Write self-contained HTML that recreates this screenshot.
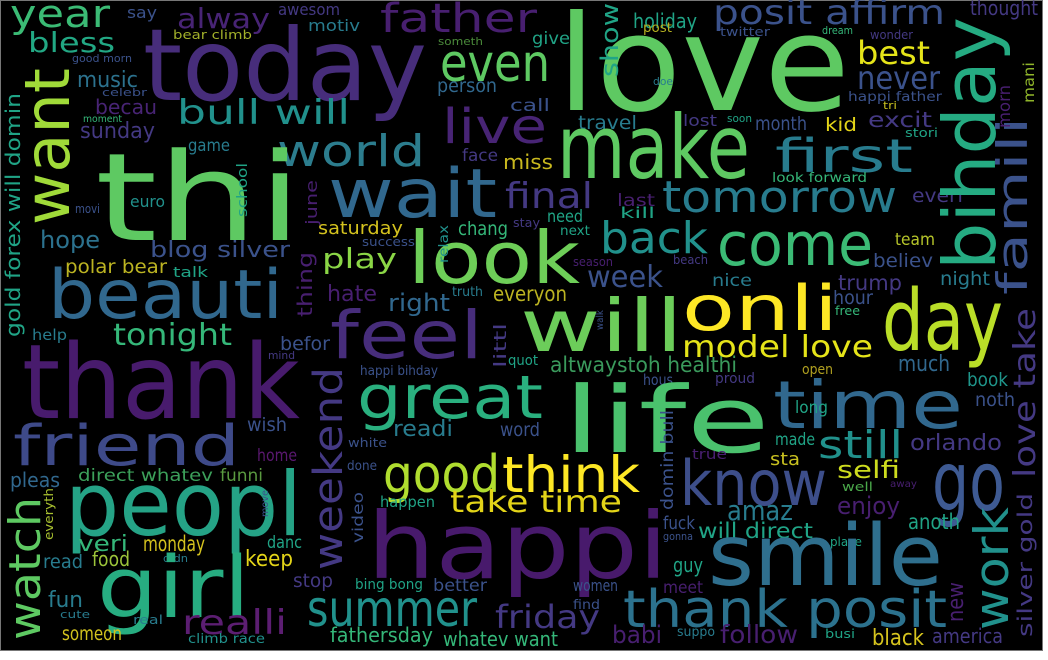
<!DOCTYPE html>
<html><head><meta charset="utf-8"><title>Word cloud</title>
<style>
html,body{margin:0;padding:0;background:#fff;}
svg{display:block;}
text{font-family:"DejaVu Sans","Liberation Sans",sans-serif;}
</style></head>
<body>
<svg id="cloud" width="1048" height="660" viewBox="0 0 1048 660" xmlns="http://www.w3.org/2000/svg">
<rect x="0.5" y="0.5" width="1042" height="650" fill="#000" stroke="#777" stroke-width="1"/>
<g id="words"></g>
</svg>
<script>
// horizontal words: [word, x, baseline, fontSize, width, color]
const horizontalWords = [
["year",10,27,38,100,"#3bbb75"],["bless",28,52,28,87,"#22a884"],["say",127,18,16,30,"#3b528b"],
["alway",177,28,28,93,"#482475"],["awesom",278,15,16,62,"#443983"],["motiv",308,31,16,52,"#287c8e"],
["bear climb",173,39,12,79,"#a2b02a"],["today",143,100,100,284,"#472d7b"],["good morn",72,62,11,60,"#3b528b"],
["music",77,87,22,61,"#2c728e"],["celebr",102,96,11,45,"#3b528b"],["becau",95,114,20,62,"#482475"],
["bull will",177,124,34,173,"#21918c"],["moment",83,122,10,39,"#35b779"],["sunday",80,138,22,75,"#443983"],
["game",188,151,17,42,"#287c8e"],["world",277,166,44,148,"#2c7d8e"],["thi",95,240,122,207,"#5ec962"],
["euro",130,207,16,35,"#21918c"],["movi",75,213,12,25,"#3b528b"],["wait",328,217,68,169,"#31688e"],
["father",380,32,40,157,"#481f70"],["even",440,81,52,110,"#5ec962"],["holiday",633,28,20,64,"#20a486"],
["post",643,32,13,29,"#b5b020"],["someth",438,45,11,45,"#4a8a3a"],["give",532,44,17,38,"#20a486"],
["love",557,110,133,293,"#5ec962"],["person",437,92,19,60,"#31688e"],["doe",653,85,11,20,"#287c8e"],
["call",510,111,17,40,"#3b528b"],["live",442,143,48,105,"#482475"],["travel",578,129,19,59,"#287c8e"],
["lost",683,126,16,34,"#443983"],["face",462,161,17,36,"#443983"],["miss",503,169,20,50,"#c8b81e"],
["make",557,178,88,193,"#5ec962"],["final",505,208,36,88,"#443983"],["tomorrow",662,212,44,235,"#287c8e"],
["last",617,206,17,38,"#481f70"],["need",547,222,17,36,"#20a486"],["kill",620,218,15,35,"#20a486"],
["posit affirm",713,24,34,232,"#3b528b"],["thought",970,15,20,68,"#443983"],["twitter",720,36,12,50,"#3b528b"],
["dream",822,34,11,31,"#35b779"],["wonder",870,39,12,43,"#443983"],["best",857,64,32,73,"#e5e419"],
["never",857,89,32,83,"#3b528b"],["happi father",848,101,13,94,"#3b528b"],["tri",883,109,11,14,"#c8c020"],
["soon",727,122,11,25,"#20a486"],["month",755,130,19,52,"#3b528b"],["kid",825,131,19,32,"#e3d418"],
["excit",868,127,21,64,"#443983"],["stori",905,137,12,33,"#20a486"],["first",775,172,46,138,"#287c8e"],
["look forward",772,182,13,95,"#35b779"],["everi",912,202,19,51,"#443983"],["hope",40,248,24,60,"#2c728e"],
["blog silver",150,257,22,140,"#3b528b"],["saturday",318,234,18,85,"#d4c21e"],["polar bear",65,273,19,102,"#bcb422"],
["talk",173,277,14,35,"#20a486"],["play",322,268,28,75,"#8bd646"],["beauti",48,318,68,235,"#31688e"],
["hate",327,301,22,50,"#481f70"],["help",32,340,15,35,"#287c8e"],["tonight",113,345,30,119,"#35b779"],
["befor",280,350,19,50,"#3b528b"],["mind",268,359,11,27,"#443983"],["feel",330,358,66,153,"#472d7b"],
["thank",22,418,103,278,"#481b6d"],["wish",247,431,19,40,"#3b528b"],["friend",13,465,56,227,"#3e4a89"],
["success",362,246,12,53,"#3b528b"],["chang",458,235,19,50,"#35b779"],["stay",513,227,12,27,"#443983"],
["next",560,235,13,30,"#20a486"],["look",408,283,72,172,"#6ece58"],["back",600,253,44,108,"#21918c"],
["season",573,266,12,40,"#481f70"],["beach",673,264,12,35,"#443983"],["week",587,287,30,76,"#3b528b"],
["truth",452,296,13,31,"#287c8e"],["everyon",493,301,21,74,"#bcb422"],["right",388,311,24,62,"#31688e"],
["will",520,351,72,163,"#6ccd5a"],["quot",508,365,14,30,"#20a486"],["happi bihday",360,375,13,78,"#3b528b"],
["altwaystoh healthi",550,372,21,187,"#3a9a5c"],["hous",643,385,15,30,"#3b528b"],["great",357,418,60,186,"#2ab07f"],
["readi",393,436,22,60,"#287c8e"],["word",500,436,19,40,"#3b528b"],["come",717,265,60,156,"#3bbb75"],
["team",895,245,17,40,"#b5c42a"],["believ",873,267,19,60,"#3b528b"],["nice",712,286,17,40,"#287c8e"],
["trump",838,290,21,64,"#443983"],["night",940,285,19,50,"#287c8e"],["hour",833,304,19,40,"#3b528b"],
["free",835,315,12,25,"#35b779"],["onli",682,330,62,156,"#fde725"],["day",882,350,85,121,"#bade28"],
["model love",682,357,30,191,"#e5e419"],["much",898,371,22,52,"#31688e"],["open",802,374,14,31,"#b0a020"],
["proud",715,383,14,40,"#443983"],["life",563,452,92,207,"#4ac16d"],["time",773,428,66,190,"#31688e"],
["book",967,386,19,41,"#1f968b"],["noth",975,406,19,40,"#3b528b"],["long",795,413,17,33,"#20a486"],
["still",818,458,38,85,"#21918c"],["made",775,445,17,40,"#20a486"],["orlando",910,450,22,92,"#443983"],
["true",692,459,14,35,"#481f70"],["sta",770,465,18,30,"#c8c020"],["know",680,505,62,147,"#3d4e8a"],
["selfi",837,478,24,63,"#cddc1e"],["go",932,510,82,73,"#3e5a93"],["well",842,491,12,31,"#4aa84a"],
["away",890,487,10,27,"#481f70"],["amaz",727,520,28,66,"#287c8e"],["enjoy",837,514,24,63,"#481f70"],
["anoth",908,529,21,52,"#20a486"],["fuck",663,529,18,32,"#3b528b"],["will direct",698,538,21,115,"#20a486"],
["gonna",663,540,11,30,"#3b528b"],["place",830,546,12,32,"#20a486"],["smile",708,585,85,235,"#2f6f8e"],
["guy",673,572,20,30,"#20a486"],["meet",663,593,17,40,"#481f70"],["thank posit",623,627,52,324,"#2c728e"],
["suppo",677,636,13,38,"#287c8e"],["busi",825,638,12,30,"#20a486"],["follow",720,643,25,78,"#481f70"],
["black",872,645,22,52,"#d6c41e"],["america",932,643,20,71,"#443983"],["good",383,492,52,117,"#b0dd2f"],
["think",502,492,50,138,"#fde725"],["take time",450,512,30,172,"#e3d418"],["white",348,447,12,39,"#3b528b"],
["done",347,470,13,30,"#3b528b"],["happen",380,507,15,55,"#20a486"],["happi",367,578,92,301,"#481a6c"],
["summer",307,626,50,170,"#21918c"],["friday",495,628,32,105,"#443983"],["babi",612,643,24,50,"#481f70"],
["fathersday",330,642,20,103,"#35b779"],["whatev want",443,646,20,115,"#35b779"],["stop",293,587,19,40,"#443983"],
["bing bong",355,589,14,68,"#20a486"],["better",433,591,17,54,"#3b528b"],["women",573,591,16,45,"#3b528b"],
["find",573,609,13,27,"#3b528b"],["danc",267,548,17,35,"#20a486"],["keep",245,566,22,48,"#e3d418"],
["pleas",10,487,20,50,"#31688e"],["direct whatev",78,481,17,135,"#3ca05a"],["funni",220,481,17,43,"#5a9a40"],
["home",257,461,17,40,"#5a1870"],["peopl",65,535,88,237,"#25a386"],["veri",78,551,22,50,"#35b779"],
["monday",143,551,21,62,"#d4c21e"],["food",92,566,20,38,"#9cc43a"],["didn",163,562,11,25,"#287c8e"],
["read",43,568,19,40,"#287c8e"],["girl",97,617,85,153,"#27ad81"],["fun",48,607,22,35,"#287c8e"],
["cute",60,618,11,30,"#287c8e"],["someon",62,640,19,60,"#d2c21e"],["real",133,624,12,30,"#287c8e"],
["realli",182,634,34,105,"#5c1e72"],["climb race",188,643,13,77,"#21918c"]
];
// vertical words (read bottom to top): [word, baselineX, bottomY, fontSize, length, color]
const verticalWords = [
["want",69,225,62,157,"#a0da39"],["gold forex will domin",20,337,20,244,"#20a486"],
["school",247,217,14,54,"#20a486"],["june",317,225,16,45,"#481f70"],["show",618,77,24,74,"#20a486"],
["bihday",995,270,72,253,"#25ab82"],["famili",1027,295,42,178,"#3b528b"],["love take",1035,478,30,170,"#443983"],
["mani",1034,103,15,41,"#8fb52a"],["morn",1010,128,17,43,"#481f70"],["weekend",342,570,40,203,"#443983"],
["thing",312,317,20,65,"#481f70"],["relax",448,263,13,38,"#21918c"],["walk",603,330,10,20,"#3b528b"],
["littl",506,368,17,45,"#443983"],["domin bull",673,510,17,100,"#3b528b"],["video",363,543,15,51,"#3b528b"],
["work",1008,630,47,123,"#21918c"],["silver gold",1032,637,20,144,"#443983"],["new",963,622,22,40,"#481f70"],
["watch",40,640,44,143,"#5ec962"],["everyth",53,540,12,52,"#a8c030"],["move",268,517,10,27,"#3b528b"]
];
const NS = "http://www.w3.org/2000/svg";
const layer = document.getElementById("words");
function slug(w){ return w.replace(/\s+/g,"-"); }
horizontalWords.forEach(function(r){
  const t = document.createElementNS(NS,"text");
  t.setAttribute("x", r[1]);
  t.setAttribute("y", r[2]);
  t.setAttribute("font-size", r[3]);
  t.setAttribute("textLength", r[4]);
  t.setAttribute("lengthAdjust", "spacingAndGlyphs");
  t.setAttribute("fill", r[5]);
  
  
  t.textContent = r[0];
  layer.appendChild(t);
});
verticalWords.forEach(function(r){
  const t = document.createElementNS(NS,"text");
  t.setAttribute("x", 0);
  t.setAttribute("y", 0);
  t.setAttribute("transform", "translate(" + r[1] + "," + r[2] + ") rotate(-90)");
  t.setAttribute("font-size", r[3]);
  t.setAttribute("textLength", r[4]);
  t.setAttribute("lengthAdjust", "spacingAndGlyphs");
  t.setAttribute("fill", r[5]);
  
  
  t.textContent = r[0];
  layer.appendChild(t);
});
</script>
</body></html>
